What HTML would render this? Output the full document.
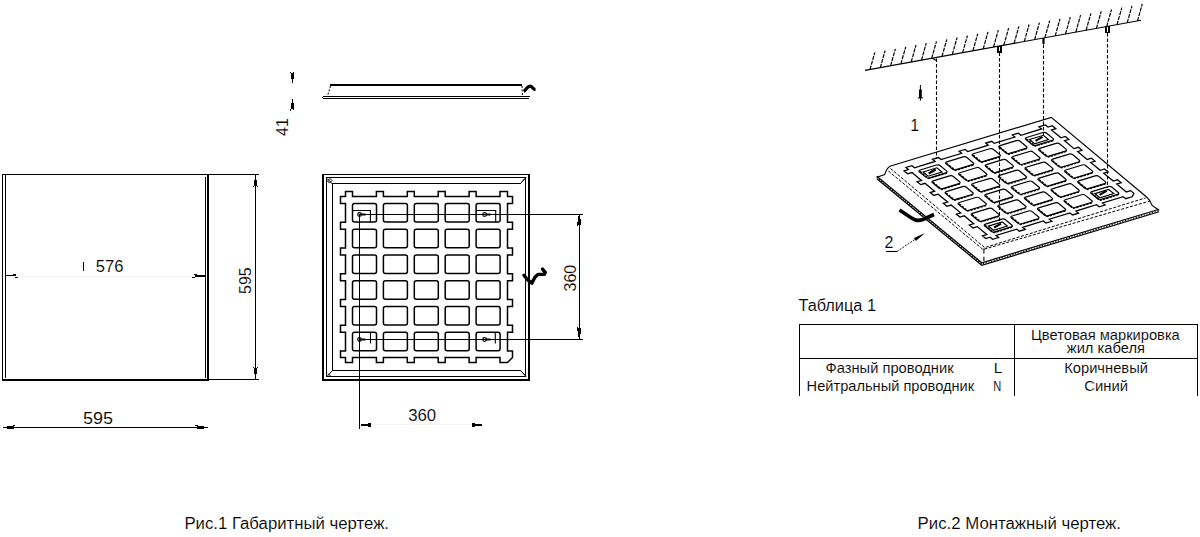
<!DOCTYPE html>
<html><head><meta charset="utf-8"><style>
html,body{margin:0;padding:0;background:#fff;width:1200px;height:537px;overflow:hidden}
svg{display:block}
text{font-family:"Liberation Sans",sans-serif;fill:#000;stroke:#fff;stroke-width:0.12px}
</style></head><body>
<svg width="1200" height="537" viewBox="0 0 1200 537">
<rect width="1200" height="537" fill="#fff"/>
<g fill="#000"><rect x="2" y="174" width="257" height="1"/><rect x="2" y="379" width="207" height="2"/><rect x="209" y="379" width="50" height="1"/><rect x="2" y="174" width="1" height="207"/><rect x="5" y="175" width="1" height="203"/><rect x="205" y="177" width="1" height="201"/><rect x="207" y="174" width="2" height="207"/><rect x="255" y="175" width="1" height="205"/><rect x="254" y="180" width="3" height="6"/><rect x="253" y="186" width="1" height="1"/><rect x="257" y="186" width="1" height="1"/><rect x="254" y="368" width="3" height="6"/><rect x="253" y="367" width="1" height="1"/><rect x="257" y="367" width="1" height="1"/><rect x="6" y="275" width="10" height="2"/><rect x="13" y="274" width="3" height="1"/><rect x="15" y="277" width="3" height="1"/><rect x="15" y="276" width="1" height="1"/><rect x="195" y="275" width="10" height="2"/><rect x="194" y="274" width="3" height="1"/><rect x="192" y="277" width="3" height="1"/><rect x="83" y="262" width="1" height="9"/><rect x="3" y="427" width="205" height="1"/><rect x="7" y="426" width="7" height="3"/><rect x="13" y="425" width="2" height="1"/><rect x="197" y="426" width="7" height="3"/><rect x="195" y="425" width="3" height="1"/></g>
<path d="M6 276.5H194" stroke="#f4f4f4" stroke-width="1"/>
<g fill="#000"><rect x="330" y="84" width="192" height="2"/><rect x="323" y="96" width="207" height="1"/><rect x="322" y="97" width="1" height="1"/><rect x="323" y="98" width="206" height="1"/><rect x="290" y="72" width="1" height="1"/><rect x="293" y="72" width="1" height="1"/><rect x="291" y="73" width="3" height="6"/><rect x="292" y="79" width="1" height="4"/><rect x="292" y="99" width="1" height="4"/><rect x="291" y="103" width="3" height="6"/><rect x="290" y="109" width="1" height="2"/><rect x="293" y="109" width="1" height="1"/></g>
<path d="M330.5 86L327.5 96M522 86L522.5 96" stroke="#000" stroke-width="1" stroke-dasharray="2 1.5"/>
<path d="M523.8 91.5C525.5 90.5 527 86.5 530 86.2C532.5 86 532.5 89.5 535.5 89.5" stroke="#000" stroke-width="3.3" fill="none"/>
<g fill="#000"><rect x="322" y="174" width="208" height="1"/><rect x="322" y="174" width="2" height="207"/><rect x="528" y="174" width="2" height="207"/><rect x="322" y="379" width="208" height="2"/><rect x="326" y="177" width="200" height="1"/><rect x="326" y="177" width="1" height="200"/><rect x="525" y="177" width="1" height="200"/><rect x="326" y="376" width="200" height="1"/><rect x="332" y="183" width="189" height="1"/><rect x="332" y="183" width="1" height="188"/><rect x="332" y="370" width="189" height="1"/></g>
<path d="M327 178.5L332.5 184M327.5 181L330 178.5L332 180.5L329.5 183ZM520.5 183.5L526 177.5M522.5 181L525 178.5M520.5 370.5L526 376.5M522.5 372.5L525 375M332.5 370.5L327 376.5M328 373.5L330.5 376" fill="none" stroke="#000" stroke-width="1"/>
<g fill="none" stroke="#000" stroke-width="1.5">
<path d="M340.5 196.5L345.5 196.5L345.5 191.5L352.5 191.5L352.5 196.5L376.4 196.5L376.4 191.5L383.4 191.5L383.4 196.5L407.3 196.5L407.3 191.5L414.3 191.5L414.3 196.5L438.2 196.5L438.2 191.5L445.2 191.5L445.2 196.5L469.1 196.5L469.1 191.5L476.1 191.5L476.1 196.5L500.0 196.5L500.0 191.5L507.5 191.5L507.5 196.5L512.5 196.5L512.5 203.5L507.5 203.5L507.5 222.2L512.5 222.2L512.5 229.2L507.5 229.2L507.5 248.0L512.5 248.0L512.5 255.0L507.5 255.0L507.5 273.8L512.5 273.8L512.5 280.8L507.5 280.8L507.5 299.5L512.5 299.5L512.5 306.5L507.5 306.5L507.5 325.2L512.5 325.2L512.5 332.2L507.5 332.2L507.5 351.0L512.5 351.0L512.5 357.5L507.5 362.5L500.0 362.5L500.0 357.5L476.1 357.5L476.1 362.5L469.1 362.5L469.1 357.5L445.2 357.5L445.2 362.5L438.2 362.5L438.2 357.5L414.3 357.5L414.3 362.5L407.3 362.5L407.3 357.5L383.4 357.5L383.4 362.5L376.4 362.5L376.4 357.5L352.5 357.5L352.5 362.5L345.5 362.5L345.5 357.5L340.5 357.5L340.5 351.0L345.5 351.0L345.5 332.2L340.5 332.2L340.5 325.2L345.5 325.2L345.5 306.5L340.5 306.5L340.5 299.5L345.5 299.5L345.5 280.8L340.5 280.8L340.5 273.8L345.5 273.8L345.5 255.0L340.5 255.0L340.5 248.0L345.5 248.0L345.5 229.2L340.5 229.2L340.5 222.2L345.5 222.2L345.5 203.5L340.5 203.5Z"/>
<rect x="352.50" y="203.50" width="24" height="18.5" rx="2"/>
<rect x="352.50" y="229.25" width="24" height="18.5" rx="2"/>
<rect x="352.50" y="255.00" width="24" height="18.5" rx="2"/>
<rect x="352.50" y="280.75" width="24" height="18.5" rx="2"/>
<rect x="352.50" y="306.50" width="24" height="18.5" rx="2"/>
<rect x="352.50" y="332.25" width="24" height="18.5" rx="2"/>
<rect x="383.40" y="203.50" width="24" height="18.5" rx="2"/>
<rect x="383.40" y="229.25" width="24" height="18.5" rx="2"/>
<rect x="383.40" y="255.00" width="24" height="18.5" rx="2"/>
<rect x="383.40" y="280.75" width="24" height="18.5" rx="2"/>
<rect x="383.40" y="306.50" width="24" height="18.5" rx="2"/>
<rect x="383.40" y="332.25" width="24" height="18.5" rx="2"/>
<rect x="414.30" y="203.50" width="24" height="18.5" rx="2"/>
<rect x="414.30" y="229.25" width="24" height="18.5" rx="2"/>
<rect x="414.30" y="255.00" width="24" height="18.5" rx="2"/>
<rect x="414.30" y="280.75" width="24" height="18.5" rx="2"/>
<rect x="414.30" y="306.50" width="24" height="18.5" rx="2"/>
<rect x="414.30" y="332.25" width="24" height="18.5" rx="2"/>
<rect x="445.20" y="203.50" width="24" height="18.5" rx="2"/>
<rect x="445.20" y="229.25" width="24" height="18.5" rx="2"/>
<rect x="445.20" y="255.00" width="24" height="18.5" rx="2"/>
<rect x="445.20" y="280.75" width="24" height="18.5" rx="2"/>
<rect x="445.20" y="306.50" width="24" height="18.5" rx="2"/>
<rect x="445.20" y="332.25" width="24" height="18.5" rx="2"/>
<rect x="476.10" y="203.50" width="24" height="18.5" rx="2"/>
<rect x="476.10" y="229.25" width="24" height="18.5" rx="2"/>
<rect x="476.10" y="255.00" width="24" height="18.5" rx="2"/>
<rect x="476.10" y="280.75" width="24" height="18.5" rx="2"/>
<rect x="476.10" y="306.50" width="24" height="18.5" rx="2"/>
<rect x="476.10" y="332.25" width="24" height="18.5" rx="2"/>
</g>
<path d="M352.3 210.5H370.4V222.4M476 210.5H495.7V222.4M370.5 332.4V343.5M495.3 332.4V343.5" fill="none" stroke="#000" stroke-width="1.1"/>
<circle cx="359.5" cy="214.5" r="1.8" fill="none" stroke="#000" stroke-width="1.2"/>
<path d="M361.0 214.5H365.5" stroke="#000" stroke-width="2"/>
<circle cx="484.5" cy="214.5" r="1.8" fill="none" stroke="#000" stroke-width="1.2"/>
<path d="M486.0 214.5H490.5" stroke="#000" stroke-width="2"/>
<circle cx="359.5" cy="339.5" r="1.8" fill="none" stroke="#000" stroke-width="1.2"/>
<path d="M361.0 339.5H365.5" stroke="#000" stroke-width="2"/>
<circle cx="484.5" cy="339.5" r="1.8" fill="none" stroke="#000" stroke-width="1.2"/>
<path d="M486.0 339.5H490.5" stroke="#000" stroke-width="2"/>
<g fill="#000"><rect x="359" y="214" width="224" height="1"/><rect x="359" y="339" width="224" height="1"/><rect x="579" y="214" width="1" height="126"/><rect x="359" y="214" width="1" height="215"/><rect x="578" y="216" width="2" height="3"/><rect x="578" y="219" width="3" height="6"/><rect x="577" y="222" width="1" height="4"/><rect x="578" y="328" width="3" height="6"/><rect x="577" y="327" width="1" height="4"/><rect x="578" y="334" width="2" height="3"/><rect x="361" y="424" width="8" height="2"/><rect x="368" y="423" width="3" height="4"/><rect x="475" y="424" width="7" height="2"/><rect x="472" y="423" width="3" height="4"/></g>
<path d="M371 424.5H472" stroke="#f4f4f4" stroke-width="1"/>
<path d="M523.9 275.2L527.6 279.8L531.8 283.1L535.1 277L537.9 274.4L544.4 274.4L545.3 272.4L542.5 269.1" fill="none" stroke="#000" stroke-width="3.4" stroke-linejoin="round" stroke-linecap="round"/>
<path d="M865 70.4L1141 20.3" stroke="#000" stroke-width="1.1"/>
<path d="M870.0 69.5L874.8 52.5M880.3 67.6L885.1 50.6M890.6 65.8L895.4 48.8M900.9 63.9L905.7 46.9M911.2 62.0L916.0 45.0M921.5 60.2L926.2 43.2M931.7 58.3L936.5 41.3M942.0 56.4L946.8 39.4M952.3 54.5L957.1 37.5M962.6 52.7L967.4 35.7M972.9 50.8L977.7 33.8M983.2 48.9L988.0 31.9M993.5 47.1L998.3 30.1M1003.8 45.2L1008.6 28.2M1014.1 43.3L1018.9 26.3M1024.3 41.5L1029.1 24.5M1034.6 39.6L1039.4 22.6M1044.9 37.7L1049.7 20.7M1055.2 35.9L1060.0 18.9M1065.5 34.0L1070.3 17.0M1075.8 32.1L1080.6 15.1M1086.1 30.3L1090.9 13.3M1096.4 28.4L1101.2 11.4M1106.7 26.5L1111.5 9.5M1117.0 24.7L1121.8 7.7M1127.2 22.8L1132.0 5.8M1137.5 20.9L1142.3 3.9" stroke="#000" stroke-width="1.2" stroke-dasharray="4 1"/>
<path d="M936.5 58.5V159" stroke="#000" stroke-width="1.1" stroke-dasharray="3.5 2"/>
<path d="M999.5 47.0V221" stroke="#000" stroke-width="1.1" stroke-dasharray="3.5 2"/>
<path d="M1043.5 39.0V135" stroke="#000" stroke-width="1.1" stroke-dasharray="3.5 2"/>
<path d="M1107.5 27.4V188" stroke="#000" stroke-width="1.1" stroke-dasharray="3.5 2"/>
<rect x="998" y="46.5" width="3" height="5.5" fill="#fff" stroke="#000" stroke-width="1.1" shape-rendering="crispEdges"/>
<rect x="1106" y="26.9" width="3" height="5.5" fill="#fff" stroke="#000" stroke-width="1.1" shape-rendering="crispEdges"/>
<path d="M1043.5 38.0V44.0" stroke="#000" stroke-width="2.2"/>
<path d="M932.5 58.6L936.5 60.4" stroke="#000" stroke-width="1.1"/>
<path d="M920.4 85V100.7M917.8 97.9H923" stroke="#000" stroke-width="1"/>
<path d="M919 89.5H921.8V97.9H919Z" fill="#000"/>
<path d="M876.8 176.3L981.8 262.8L1159.1 209.3M876.8 178.8L981.8 265.3L1159.1 211.8" fill="none" stroke="#000" stroke-width="1.2"/>
<path d="M876.8 177.5L981.8 264L1159.1 210.5" fill="none" stroke="#000" stroke-width="1.2" stroke-dasharray="1.2 1.6"/>
<path d="M876.8 177.3L884.7 174.5C886 171 887 168 889.9 166.3M1146.6 197C1149 199 1151 202 1152.1 205.4L1159.1 210.3M983.9 248.5V253.5M983.9 256.8V261" fill="none" stroke="#000" stroke-width="1.1"/>
<path d="M889.9 166.3L1051.3 117.4L1146.6 197" fill="none" stroke="#000" stroke-width="1.2"/>
<path d="M890.5 168.5L984.7 247.6L1145.6 197.9M888.4 171L983 249.5L1150 201" fill="none" stroke="#000" stroke-width="1" stroke-dasharray="3 1.6"/>
<g transform="matrix(0.8613 -0.2629 0.5072 0.4202 511.18 177.85)" fill="none" stroke="#000" stroke-width="1.2" >
<path d="M340.5 196.5L345.5 196.5L345.5 191.5L352.5 191.5L352.5 196.5L376.4 196.5L376.4 191.5L383.4 191.5L383.4 196.5L407.3 196.5L407.3 191.5L414.3 191.5L414.3 196.5L438.2 196.5L438.2 191.5L445.2 191.5L445.2 196.5L469.1 196.5L469.1 191.5L476.1 191.5L476.1 196.5L500.0 196.5L500.0 191.5L507.5 191.5L507.5 196.5L512.5 196.5L512.5 203.5L507.5 203.5L507.5 222.2L512.5 222.2L512.5 229.2L507.5 229.2L507.5 248.0L512.5 248.0L512.5 255.0L507.5 255.0L507.5 273.8L512.5 273.8L512.5 280.8L507.5 280.8L507.5 299.5L512.5 299.5L512.5 306.5L507.5 306.5L507.5 325.2L512.5 325.2L512.5 332.2L507.5 332.2L507.5 351.0L512.5 351.0L512.5 357.5L507.5 362.5L500.0 362.5L500.0 357.5L476.1 357.5L476.1 362.5L469.1 362.5L469.1 357.5L445.2 357.5L445.2 362.5L438.2 362.5L438.2 357.5L414.3 357.5L414.3 362.5L407.3 362.5L407.3 357.5L383.4 357.5L383.4 362.5L376.4 362.5L376.4 357.5L352.5 357.5L352.5 362.5L345.5 362.5L345.5 357.5L340.5 357.5L340.5 351.0L345.5 351.0L345.5 332.2L340.5 332.2L340.5 325.2L345.5 325.2L345.5 306.5L340.5 306.5L340.5 299.5L345.5 299.5L345.5 280.8L340.5 280.8L340.5 273.8L345.5 273.8L345.5 255.0L340.5 255.0L340.5 248.0L345.5 248.0L345.5 229.2L340.5 229.2L340.5 222.2L345.5 222.2L345.5 203.5L340.5 203.5Z" vector-effect="non-scaling-stroke" stroke-width="1.3"/>
<rect x="352.5" y="203.5" width="24" height="18.5" rx="2.5" vector-effect="non-scaling-stroke"/>
<rect x="352.5" y="229.2" width="24" height="18.5" rx="2.5" vector-effect="non-scaling-stroke"/>
<rect x="352.5" y="255.0" width="24" height="18.5" rx="2.5" vector-effect="non-scaling-stroke"/>
<rect x="352.5" y="280.8" width="24" height="18.5" rx="2.5" vector-effect="non-scaling-stroke"/>
<rect x="352.5" y="306.5" width="24" height="18.5" rx="2.5" vector-effect="non-scaling-stroke"/>
<rect x="352.5" y="332.2" width="24" height="18.5" rx="2.5" vector-effect="non-scaling-stroke"/>
<rect x="383.4" y="203.5" width="24" height="18.5" rx="2.5" vector-effect="non-scaling-stroke"/>
<rect x="383.4" y="229.2" width="24" height="18.5" rx="2.5" vector-effect="non-scaling-stroke"/>
<rect x="383.4" y="255.0" width="24" height="18.5" rx="2.5" vector-effect="non-scaling-stroke"/>
<rect x="383.4" y="280.8" width="24" height="18.5" rx="2.5" vector-effect="non-scaling-stroke"/>
<rect x="383.4" y="306.5" width="24" height="18.5" rx="2.5" vector-effect="non-scaling-stroke"/>
<rect x="383.4" y="332.2" width="24" height="18.5" rx="2.5" vector-effect="non-scaling-stroke"/>
<rect x="414.3" y="203.5" width="24" height="18.5" rx="2.5" vector-effect="non-scaling-stroke"/>
<rect x="414.3" y="229.2" width="24" height="18.5" rx="2.5" vector-effect="non-scaling-stroke"/>
<rect x="414.3" y="255.0" width="24" height="18.5" rx="2.5" vector-effect="non-scaling-stroke"/>
<rect x="414.3" y="280.8" width="24" height="18.5" rx="2.5" vector-effect="non-scaling-stroke"/>
<rect x="414.3" y="306.5" width="24" height="18.5" rx="2.5" vector-effect="non-scaling-stroke"/>
<rect x="414.3" y="332.2" width="24" height="18.5" rx="2.5" vector-effect="non-scaling-stroke"/>
<rect x="445.2" y="203.5" width="24" height="18.5" rx="2.5" vector-effect="non-scaling-stroke"/>
<rect x="445.2" y="229.2" width="24" height="18.5" rx="2.5" vector-effect="non-scaling-stroke"/>
<rect x="445.2" y="255.0" width="24" height="18.5" rx="2.5" vector-effect="non-scaling-stroke"/>
<rect x="445.2" y="280.8" width="24" height="18.5" rx="2.5" vector-effect="non-scaling-stroke"/>
<rect x="445.2" y="306.5" width="24" height="18.5" rx="2.5" vector-effect="non-scaling-stroke"/>
<rect x="445.2" y="332.2" width="24" height="18.5" rx="2.5" vector-effect="non-scaling-stroke"/>
<rect x="476.1" y="203.5" width="24" height="18.5" rx="2.5" vector-effect="non-scaling-stroke"/>
<rect x="476.1" y="229.2" width="24" height="18.5" rx="2.5" vector-effect="non-scaling-stroke"/>
<rect x="476.1" y="255.0" width="24" height="18.5" rx="2.5" vector-effect="non-scaling-stroke"/>
<rect x="476.1" y="280.8" width="24" height="18.5" rx="2.5" vector-effect="non-scaling-stroke"/>
<rect x="476.1" y="306.5" width="24" height="18.5" rx="2.5" vector-effect="non-scaling-stroke"/>
<rect x="476.1" y="332.2" width="24" height="18.5" rx="2.5" vector-effect="non-scaling-stroke"/>
<path d="M353.5 205.5V223.0H374.5M353.5 231.2V248.8H374.5M353.5 257.0V274.5H374.5M353.5 282.8V300.2H374.5M353.5 308.5V326.0H374.5M353.5 334.2V351.8H374.5M384.4 205.5V223.0H405.4M384.4 231.2V248.8H405.4M384.4 257.0V274.5H405.4M384.4 282.8V300.2H405.4M384.4 308.5V326.0H405.4M384.4 334.2V351.8H405.4M415.3 205.5V223.0H436.3M415.3 231.2V248.8H436.3M415.3 257.0V274.5H436.3M415.3 282.8V300.2H436.3M415.3 308.5V326.0H436.3M415.3 334.2V351.8H436.3M446.2 205.5V223.0H467.2M446.2 231.2V248.8H467.2M446.2 257.0V274.5H467.2M446.2 282.8V300.2H467.2M446.2 308.5V326.0H467.2M446.2 334.2V351.8H467.2M477.1 205.5V223.0H498.1M477.1 231.2V248.8H498.1M477.1 257.0V274.5H498.1M477.1 282.8V300.2H498.1M477.1 308.5V326.0H498.1M477.1 334.2V351.8H498.1" vector-effect="non-scaling-stroke" stroke-width="1.3" stroke-dasharray="2.5 1"/>
<path d="M355.5 208.5H371.5V218.5H355.5ZM479.1 208.5H495.1V218.5H479.1ZM355.5 337.2H371.5V347.2H355.5ZM479.1 337.2H495.1V347.2H479.1Z" vector-effect="non-scaling-stroke" stroke-width="1.2"/>
</g>
<path d="M928.7 173.5L935.7 169.5" stroke="#000" stroke-width="2.2"/>
<path d="M1035.5 140.9L1042.5 136.9" stroke="#000" stroke-width="2.2"/>
<path d="M994.0 227.6L1001.0 223.6" stroke="#000" stroke-width="2.2"/>
<path d="M1099.6 194.9L1106.6 190.9" stroke="#000" stroke-width="2.2"/>
<path d="M899.5 210L911.5 218C915 220.5 919 221 923 219.5L934 214.5" fill="none" stroke="#000" stroke-width="3.6" stroke-linejoin="round"/>
<path d="M886 251.5H897" stroke="#000" stroke-width="1.1"/>
<path d="M897 251.5L917 238" fill="none" stroke="#000" stroke-width="0.9" stroke-dasharray="2 1.2"/>
<path d="M925.00 233.00L915.88 241.00L913.93 237.97Z" fill="#000"/>
<text x="95.8" y="271.8" font-size="16" textLength="27.6" lengthAdjust="spacingAndGlyphs">576</text>
<text x="83.0" y="424" font-size="16" textLength="30.0" lengthAdjust="spacingAndGlyphs">595</text>
<text x="184.4" y="528.6" font-size="16" textLength="204.6" lengthAdjust="spacingAndGlyphs">Рис.1 Габаритный чертеж.</text>
<text x="917.6" y="528.6" font-size="16" textLength="203.4" lengthAdjust="spacingAndGlyphs">Рис.2 Монтажный чертеж.</text>
<text x="408.2" y="420.7" font-size="16" textLength="28.0" lengthAdjust="spacingAndGlyphs">360</text>
<text x="798.4" y="311.1" font-size="16" textLength="77.6" lengthAdjust="spacingAndGlyphs">Таблица 1</text>
<text x="1031.0" y="340" font-size="15.5" textLength="148.8" lengthAdjust="spacingAndGlyphs">Цветовая маркировка</text>
<text x="1066.8" y="353.3" font-size="15.5" textLength="78.2" lengthAdjust="spacingAndGlyphs">жил кабеля</text>
<text x="825.6" y="373" font-size="15.5" textLength="128.0" lengthAdjust="spacingAndGlyphs">Фазный проводник</text>
<text x="806.6" y="391.4" font-size="15.5" textLength="167.6" lengthAdjust="spacingAndGlyphs">Нейтральный проводник</text>
<text x="1064.2" y="372.5" font-size="15.5" textLength="83.8" lengthAdjust="spacingAndGlyphs">Коричневый</text>
<text x="1084.2" y="391.2" font-size="15.5" textLength="43.8" lengthAdjust="spacingAndGlyphs">Синий</text>
<text transform="translate(251.4 294) rotate(-90)" font-size="16">595</text>
<text transform="translate(287.9 136) rotate(-90)" font-size="16">41</text>
<text transform="translate(576 291.5) rotate(-90)" font-size="16">360</text>
<text x="910.3" y="130.9" font-size="16">1</text>
<text x="884.5" y="247.8" font-size="16">2</text>
<text x="993.8" y="373" font-size="15.5">L</text>
<text x="993.2" y="391.4" font-size="15.5" textLength="8" lengthAdjust="spacingAndGlyphs">N</text>

<g fill="#000"><rect x="799" y="324" width="399" height="1"/><rect x="799" y="324" width="1" height="72"/><rect x="1014" y="324" width="1" height="72"/><rect x="1197" y="324" width="1" height="72"/><rect x="799" y="358" width="399" height="1"/></g>
</svg></body></html>
